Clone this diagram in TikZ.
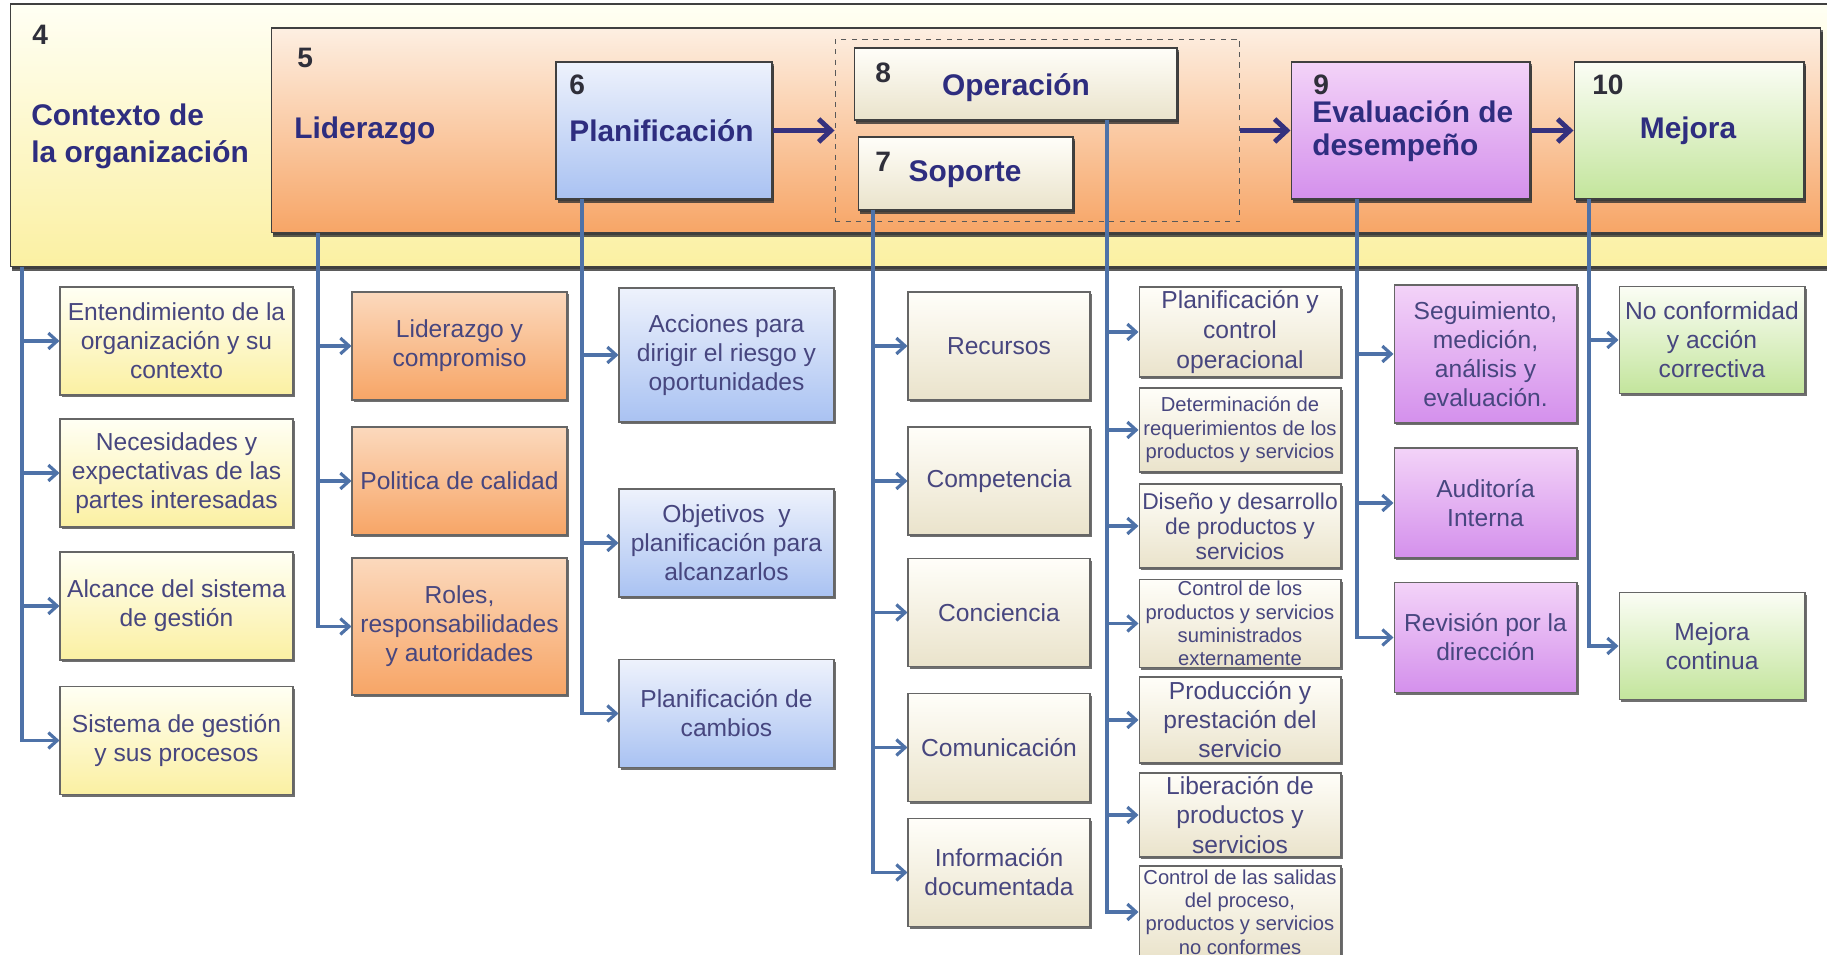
\documentclass[tikz,border=0pt]{standalone}
\usepackage{fontspec}
\setmainfont{Liberation Sans}
\usetikzlibrary{arrows.meta,shadows}

\definecolor{hdcol}{HTML}{2E2D7F}
\definecolor{txtcol}{HTML}{47467F}
\definecolor{numcol}{HTML}{2F2F3A}
\definecolor{lnkcol}{HTML}{4E72A8}
\definecolor{flwcol}{HTML}{35317E}
\definecolor{yelT}{HTML}{FFFFF4}
\definecolor{yelB}{HTML}{FBF0A2}
\definecolor{ornT}{HTML}{FDEFE2}
\definecolor{ornB}{HTML}{F7A566}
\definecolor{bluT}{HTML}{EEF2FC}
\definecolor{bluB}{HTML}{A9C2F2}
\definecolor{crmT}{HTML}{FFFEF9}
\definecolor{crmB}{HTML}{EAE3CB}
\definecolor{prpT}{HTML}{F3D3F8}
\definecolor{prpB}{HTML}{D490EC}
\definecolor{grnT}{HTML}{FBFDF5}
\definecolor{grnB}{HTML}{C3E59C}

\tikzset{
	box/.style={draw=black!60, line width=0.6pt, align=center, inner sep=1pt, text=txtcol,
		font=\fontsize{14}{16.5}\selectfont,
		drop shadow={shadow xshift=1pt, shadow yshift=-1.3pt, opacity=0.75, fill=black!75}},
	bigbox/.style={box, draw=black!75, drop shadow={shadow xshift=1.2pt, shadow yshift=-2.5pt, opacity=0.8, fill=black!80}},
	yelbox/.style={box, top color=yelT, bottom color=yelB, minimum width=4.66cm, minimum height=2.16cm},
	ornbox/.style={box, top color=ornT!70!ornB, bottom color=ornB, minimum width=4.3cm, minimum height=2.16cm},
	blubox/.style={box, top color=bluT, bottom color=bluB, minimum width=4.3cm, minimum height=2.16cm},
	crmbox/.style={box, top color=crmT, bottom color=crmB, minimum width=3.64cm, minimum height=2.16cm},
	opbox/.style={box, top color=crmT, bottom color=crmB, minimum width=4.04cm, minimum height=1.7cm},
	prpbox/.style={box, top color=prpT, bottom color=prpB, minimum width=3.66cm, minimum height=2.2cm},
	grnbox/.style={box, top color=grnT, bottom color=grnB, minimum width=3.72cm, minimum height=2.14cm},
	small/.style={font=\fontsize{11.5}{13.3}\selectfont},
	heading/.style={font=\bfseries\fontsize{17}{21}\selectfont, text=hdcol, inner sep=0pt, align=left},
	num/.style={font=\bfseries\fontsize{16}{18}\selectfont, text=numcol, inner sep=0pt},
	link/.style={draw=lnkcol, line width=1.8pt, -{Straight Barb[length=5pt, width=9pt]}},
	flow/.style={draw=flwcol, line width=2.8pt, -{Straight Barb[length=7pt, width=13pt]}},
}

\begin{document}
\begin{tikzpicture}[x=0.02cm, y=-0.02cm]
	\useasboundingbox (0,0) rectangle (1827,955);
	\fill[white] (0,0) rectangle (1827,955);
	\clip (0,0) rectangle (1827,955);

	% Top band: clauses 4 to 10
	\node[bigbox, top color=yelT, bottom color=yelB, minimum width=36.6cm, minimum height=5.26cm] (ctx) at (925,135.5) {};
	\node[bigbox, top color=ornT, bottom color=ornB, minimum width=31cm, minimum height=4.1cm] (lid) at (1046,130.5) {};
	\node[bigbox, top color=bluT, bottom color=bluB, minimum width=4.32cm, minimum height=2.74cm] (plan) at (664,130.5) {};
	\node[draw=black!65, dashed, line width=0.6pt, minimum width=8.1cm, minimum height=3.64cm] (grp) at (1037.5,130.5) {};
	\node[bigbox, top color=crmT, bottom color=crmB, minimum width=6.46cm, minimum height=1.44cm] (oper) at (1015.5,84) {};
	\node[bigbox, top color=crmT, bottom color=crmB, minimum width=4.3cm, minimum height=1.46cm] (sop) at (965.5,173.5) {};
	\node[bigbox, top color=prpT, bottom color=prpB, minimum width=4.78cm, minimum height=2.74cm] (eval) at (1410.5,130.5) {};
	\node[bigbox, top color=grnT, bottom color=grnB, minimum width=4.6cm, minimum height=2.74cm] (mej) at (1689,130.5) {};

	\node[num, anchor=base west] (n4) at (32,45) {4};
	\node[heading, anchor=west] (ctxtxt) at (31,136) {Contexto de\\la organización};
	\node[num, anchor=base west] (n5) at (297,68) {5};
	\node[heading, anchor=west] (lidtxt) at (294,131) {Liderazgo};
	\node[num, anchor=base west] (n6) at (569,95) {6};
	\node[heading, anchor=west] (plantxt) at (569,131) {Planificación};
	\node[num, anchor=base west] (n8) at (875,83) {8};
	\node[heading] (opertxt) at (1016,88) {Operación};
	\node[num, anchor=base west] (n7) at (875,172) {7};
	\node[heading] (soptxt) at (965,174) {Soporte};
	\node[num, anchor=base west] (n9) at (1313,95) {9};
	\node[heading, anchor=west, font=\bfseries\fontsize{17}{19}\selectfont] (evaltxt) at (1312,131) {Evaluación de\\desempeño};
	\node[num, anchor=base west] (n10) at (1592,95) {10};
	\node[heading] (mejtxt) at (1688,131) {Mejora};

	\draw[flow] (plan.east) -- (grp.west);
	\draw[flow] (grp.east) -- (eval.west);
	\draw[flow] (eval.east) -- (mej.west);

	% Lower boxes
	\node[yelbox] (ctxa) at (176.5,341) {Entendimiento de la\\organización y su\\contexto};
	\node[yelbox] (ctxb) at (176.5,473) {Necesidades y\\expectativas de las\\partes interesadas};
	\node[yelbox] (ctxc) at (176.5,606) {Alcance del sistema\\de gestión};
	\node[yelbox] (ctxd) at (176.5,740.5) {Sistema de gestión\\y sus procesos};

	\node[ornbox] (lida) at (459.5,346) {Liderazgo y\\compromiso};
	\node[ornbox] (lidb) at (459.5,481) {Politica de calidad};
	\node[ornbox, minimum height=2.74cm] (lidc) at (459.5,626.5) {Roles,\\responsabilidades\\y autoridades};

	\node[blubox, minimum height=2.68cm] (plana) at (726.5,355) {Acciones para\\dirigir el riesgo y\\oportunidades};
	\node[blubox] (planb) at (726.5,543) {Objetivos~~y\\planificación para\\alcanzarlos};
	\node[blubox] (planc) at (726.5,713.5) {Planificación de\\cambios};

	\node[crmbox] (sopa) at (999,346) {Recursos};
	\node[crmbox] (sopb) at (999,481) {Competencia};
	\node[crmbox] (sopc) at (999,612.5) {Conciencia};
	\node[crmbox] (sopd) at (999,747.5) {Comunicación};
	\node[crmbox] (sope) at (999,872.5) {Información\\documentada};

	\node[opbox, minimum height=1.8cm, font=\fontsize{14}{17}\selectfont] (opera) at (1240,332) {Planificación y\\control\\operacional};
	\node[opbox, small, minimum height=1.68cm] (operb) at (1240,430) {Determinación de\\requerimientos de los\\productos y servicios};
	\node[opbox, minimum height=1.68cm, font=\fontsize{13}{14.2}\selectfont] (operc) at (1240,526) {Diseño y desarrollo\\de productos y\\servicios};
	\node[opbox, small, minimum height=1.74cm] (operd) at (1240,623.5) {Control de los\\productos y servicios\\suministrados\\externamente};
	\node[opbox, minimum height=1.72cm] (opere) at (1240,720) {Producción y\\prestación del\\servicio};
	\node[opbox, minimum height=1.68cm, font=\fontsize{14}{17}\selectfont] (operf) at (1240,815) {Liberación de\\productos y\\servicios};
	\node[opbox, small, minimum height=1.84cm] (operg) at (1240,912) {Control de las salidas\\del proceso,\\productos y servicios\\no conformes};

	\node[prpbox, minimum height=2.76cm] (evala) at (1485.5,354) {Seguimiento,\\medición,\\análisis y\\evaluación.};
	\node[prpbox] (evalb) at (1485.5,503) {Auditoría\\Interna};
	\node[prpbox] (evalc) at (1485.5,637.5) {Revisión por la\\dirección};

	\node[grnbox] (meja) at (1712,340) {No conformidad\\y acción\\correctiva};
	\node[grnbox] (mejb) at (1712,646) {Mejora\\continua};

	% Branches
	\coordinate (t4) at (22,267);
	\coordinate (t5) at (318,233);
	\coordinate (t6) at (582,199);
	\coordinate (t7) at (873,210);
	\coordinate (t8) at (1107,120);
	\coordinate (t9) at (1357,199);
	\coordinate (t10) at (1589,199);

	\draw[link] (t4) |- (ctxa);
	\draw[link] (t4) |- (ctxb);
	\draw[link] (t4) |- (ctxc);
	\draw[link] (t4) |- (ctxd);
	\draw[link] (t5) |- (lida);
	\draw[link] (t5) |- (lidb);
	\draw[link] (t5) |- (lidc);
	\draw[link] (t6) |- (plana);
	\draw[link] (t6) |- (planb);
	\draw[link] (t6) |- (planc);
	\draw[link] (t7) |- (sopa);
	\draw[link] (t7) |- (sopb);
	\draw[link] (t7) |- (sopc);
	\draw[link] (t7) |- (sopd);
	\draw[link] (t7) |- (sope);
	\draw[link] (t8) |- (opera);
	\draw[link] (t8) |- (operb);
	\draw[link] (t8) |- (operc);
	\draw[link] (t8) |- (operd);
	\draw[link] (t8) |- (opere);
	\draw[link] (t8) |- (operf);
	\draw[link] (t8) |- (operg);
	\draw[link] (t9) |- (evala);
	\draw[link] (t9) |- (evalb);
	\draw[link] (t9) |- (evalc);
	\draw[link] (t10) |- (meja);
	\draw[link] (t10) |- (mejb);
\end{tikzpicture}
\end{document}
